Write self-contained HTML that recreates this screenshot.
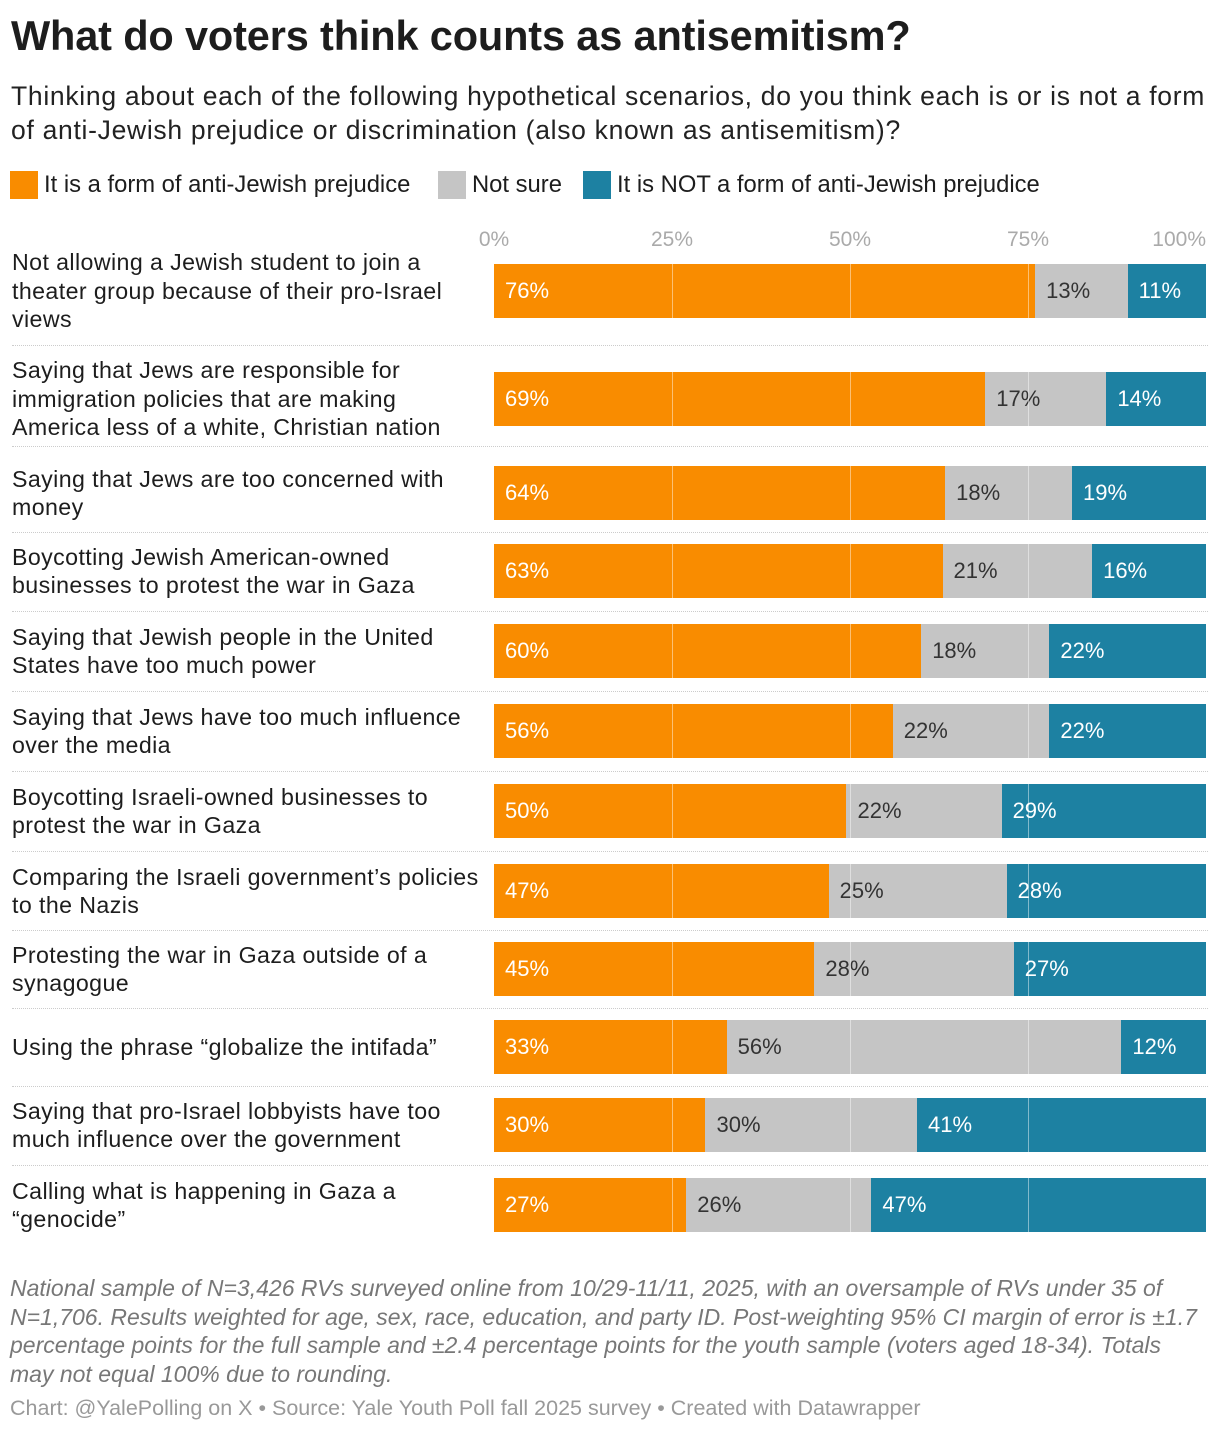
<!DOCTYPE html>
<html><head><meta charset="utf-8">
<style>
body{margin:0;width:1220px;height:1432px;background:#fff;font-family:"Liberation Sans",sans-serif;color:#1d1d1d;position:relative;overflow:hidden}
.abs{position:absolute}
#title{left:11px;top:12px;font-size:41.5px;font-weight:bold;letter-spacing:-0.15px;white-space:nowrap}
#sub{left:11px;top:79px;font-size:26.5px;line-height:34px;color:#222;white-space:nowrap;letter-spacing:0.7px}
.leg{top:171px;font-size:23.8px;display:flex;align-items:center;white-space:nowrap}
.sw{width:28px;height:28px;margin-right:6px}
.lab{left:12px;font-size:23.2px;line-height:28.5px;width:480px;display:flex;align-items:center;white-space:nowrap;letter-spacing:0.4px}
.tick{top:228px;font-size:21px;color:#aaa}
#note{left:10px;top:1274px;font-size:23px;line-height:28.5px;font-style:italic;color:#777;white-space:nowrap}
#src{left:10px;top:1396px;font-size:21.5px;color:#999;white-space:nowrap}
</style></head><body>
<div id="title" class="abs">What do voters think counts as antisemitism?</div>
<div id="sub" class="abs">Thinking about each of the following hypothetical scenarios, do you think each is or is not a form<br>of anti-Jewish prejudice or discrimination (also known as antisemitism)?</div>
<div class="abs leg" style="left:10px"><span class="sw" style="background:#f98c00"></span>It is a form of anti-Jewish prejudice</div>
<div class="abs leg" style="left:438px"><span class="sw" style="background:#c5c5c5"></span>Not sure</div>
<div class="abs leg" style="left:583px"><span class="sw" style="background:#1d81a2"></span>It is NOT a form of anti-Jewish prejudice</div>
<div id="chart"></div>
<div id="note" class="abs">National sample of N=3,426 RVs surveyed online from 10/29-11/11, 2025, with an oversample of RVs under 35 of<br>N=1,706. Results weighted for age, sex, race, education, and party ID. Post-weighting 95% CI margin of error is ±1.7<br>percentage points for the full sample and ±2.4 percentage points for the youth sample (voters aged 18-34). Totals<br>may not equal 100% due to rounding.</div>
<div id="src" class="abs">Chart: @YalePolling on X • Source: Yale Youth Poll fall 2025 survey • Created with Datawrapper</div>
<script>
const categories=["Not allowing a Jewish student to join a|theater group because of their pro-Israel|views","Saying that Jews are responsible for|immigration policies that are making|America less of a white, Christian nation","Saying that Jews are too concerned with|money","Boycotting Jewish American-owned|businesses to protest the war in Gaza","Saying that Jewish people in the United|States have too much power","Saying that Jews have too much influence|over the media","Boycotting Israeli-owned businesses to|protest the war in Gaza","Comparing the Israeli government’s policies|to the Nazis","Protesting the war in Gaza outside of a|synagogue","Using the phrase “globalize the intifada”","Saying that pro-Israel lobbyists have too|much influence over the government","Calling what is happening in Gaza a|“genocide”"];
const isForm=[76,69,64,63,60,56,50,47,45,33,30,27];
const notSure=[13,17,18,21,18,22,22,25,28,56,30,26];
const notForm=[11,14,19,16,22,22,29,28,27,12,41,47];
const ticks=[0,25,50,75,100];
const x0=494,W=712;
const rowTops=[264,372,466,544,624,704,784,864,942,1020,1098,1178];
const barH=54;
const sx=v=>x0+v/100*W;
const chart=document.getElementById('chart');
ticks.forEach(t=>{
  const d=document.createElement('div');
  
  
  d.className='abs tick';d.style.left=sx(t)+'px';
  d.style.transform=t===100?'translateX(-100%)':'translateX(-50%)';
  d.textContent=t+'%';chart.appendChild(d);
});
const cols=['#f98c00','#c5c5c5','#1d81a2'];
const tcol=['#fff','#333','#fff'];
categories.forEach((c,i)=>{
  const top=rowTops[i];
  const l=document.createElement('div');
  
  
  l.className='abs lab';l.style.top=(top-20)+'px';l.style.height=(barH+40)+'px';
  l.innerHTML='<span>'+c.split('|').join('<br>')+'</span>';chart.appendChild(l);
  const vals=[isForm[i],notSure[i],notForm[i]];
  const tot=vals[0]+vals[1]+vals[2];
  let acc=0;
  vals.forEach((v,k)=>{
    const s=document.createElement('div');
    
    
    const a=sx(acc/tot*100),b=sx((acc+v)/tot*100);
    s.className='abs';
    s.style.cssText+=`left:${a}px;width:${b-a}px;top:${top}px;height:${barH}px;background:${cols[k]};color:${tcol[k]};font-size:22px;line-height:${barH}px;padding-left:11px;box-sizing:border-box;white-space:nowrap`;
    s.textContent=v+'%';chart.appendChild(s);acc+=v;
  });
  [25,50,75].forEach(t=>{
    const g=document.createElement('div');
    
    
    g.className='abs';g.style.cssText=`left:${sx(t)}px;top:${top}px;width:1px;height:${barH}px;background:rgba(255,255,255,0.45)`;chart.appendChild(g);
  });
  if(i<categories.length-1){
    const sep=document.createElement('div');
    
    
    const y=Math.round((top+barH+rowTops[i+1])/2);
    sep.className='abs';sep.style.cssText=`left:12px;top:${y}px;width:1196px;border-top:1px dotted #ccc`;chart.appendChild(sep);
  }
});
</script>
</body></html>
